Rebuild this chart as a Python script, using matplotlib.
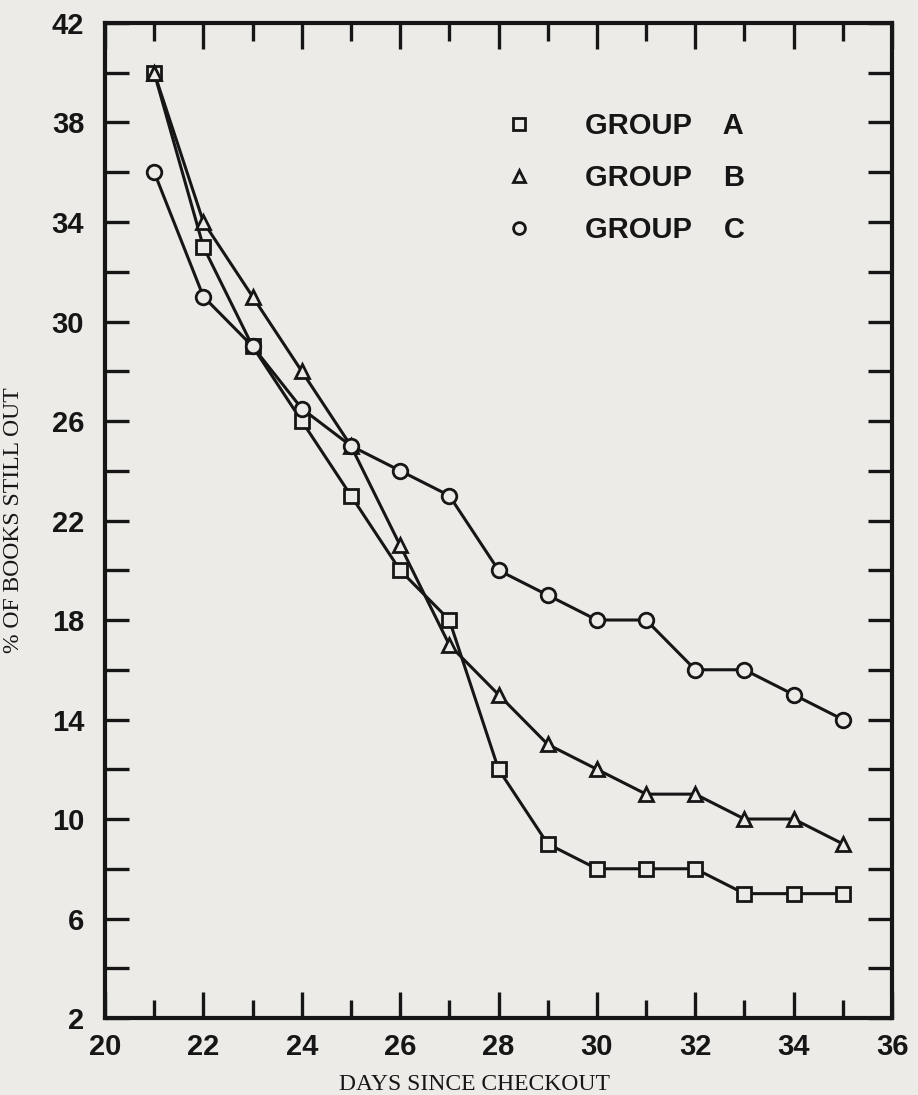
import matplotlib
matplotlib.use("Agg")
import matplotlib.pyplot as plt
from matplotlib.lines import Line2D
from matplotlib.ticker import MultipleLocator, FixedLocator

# data
days = [21, 22, 23, 24, 25, 26, 27, 28, 29, 30, 31, 32, 33, 34, 35]
group_a = [40, 33, 29, 26, 23, 20, 18, 12, 9, 8, 8, 8, 7, 7, 7]
group_b = [40, 34, 31, 28, 25, 21, 17, 15, 13, 12, 11, 11, 10, 10, 9]
group_c = [36, 31, 29, 26.5, 25, 24, 23, 20, 19, 18, 18, 16, 16, 15, 14]
group_names = ["GROUP    A", "GROUP    B", "GROUP    C"]
markers = ["s", "^", "o"]

paper = "#ecebe8"
ink = "#161616"

fig = plt.figure(figsize=(9.18, 10.95), dpi=100, facecolor=paper)
ax = fig.add_axes([0.1144, 0.0703, 0.8573, 0.9087], facecolor=paper)

for vals, m in zip([group_a, group_b, group_c], markers):
    ax.plot(days, vals, color=ink, lw=2.2, marker=m, markersize=10.5 if m != "s" else 10,
            markerfacecolor=paper, markeredgecolor=ink, markeredgewidth=2.0)

ax.set_xlim(20, 36)
ax.set_ylim(2, 42)

ax.xaxis.set_major_locator(MultipleLocator(2))
ax.xaxis.set_minor_locator(MultipleLocator(1))
ax.yaxis.set_major_locator(FixedLocator(list(range(2, 43, 4))))
ax.yaxis.set_minor_locator(FixedLocator(list(range(4, 41, 4))))

tick_font = dict(family="Liberation Sans", weight="bold", size=21)
ax.tick_params(which="both", direction="in", top=True, right=True, color=ink, width=2.4)
ax.tick_params(axis="x", which="major", length=19, pad=11)
ax.tick_params(axis="x", which="minor", length=13)
ax.tick_params(axis="y", which="both", length=17, pad=15)
for lab in ax.get_xticklabels() + ax.get_yticklabels():
    lab.set_fontproperties(tick_font)
    lab.set_color(ink)

for sp in ax.spines.values():
    sp.set_linewidth(3.0)
    sp.set_color(ink)

ax.set_xlabel("DAYS SINCE CHECKOUT", family="Liberation Serif", fontsize=17, color=ink)
ax.set_ylabel("% OF BOOKS STILL OUT", family="Liberation Serif", fontsize=17, color=ink)
ax.xaxis.set_label_coords(0.47, -0.056)
ax.yaxis.set_label_coords(-0.103, 0.5)

handles = [Line2D([], [], ls="none", marker=m, color=ink, markerfacecolor=paper,
                  markeredgewidth=2.0, markersize=8 if m == "s" else 8.5) for m in markers]
leg = ax.legend(handles, group_names, loc="upper left", bbox_to_anchor=(0.474, 0.937),
                frameon=False, handlelength=1.0, handletextpad=1.75, labelspacing=0.82,
                prop=dict(family="Liberation Sans", weight="bold", size=21))
for t in leg.get_texts():
    t.set_color(ink)

fig.savefig("out.png", dpi=100, facecolor=paper)
